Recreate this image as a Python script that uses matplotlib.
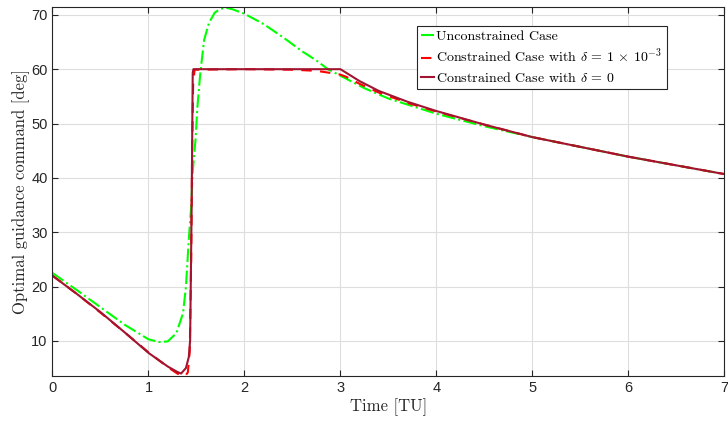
import matplotlib
matplotlib.use("Agg")
import matplotlib.pyplot as plt

# Unconstrained case (green)
t_unc = [0.0, 0.25, 0.5, 0.75, 1.0, 1.11, 1.2, 1.29, 1.36, 1.39, 1.42, 1.445, 1.46, 1.49, 1.51,
         1.54, 1.58, 1.63, 1.69, 1.75, 1.81, 1.88, 2.0, 2.2, 2.4, 2.6, 2.75, 2.87, 3.0, 3.25, 3.5,
         4.0, 4.5, 5.0, 5.5, 6.0, 6.5, 7.0]
y_unc = [22.5, 19.4, 16.2, 13.0, 10.3, 9.8, 9.9, 11.4, 15.1, 19.9, 28.6, 34.7, 40.9, 47.0, 53.1,
         59.3, 65.4, 68.5, 70.4, 71.1, 71.3, 71.0, 70.2, 68.3, 65.9, 63.3, 61.6, 60.0, 58.8, 56.5, 54.6,
         51.8, 49.5, 47.5, 45.7, 43.9, 42.3, 40.7]

# Constrained case, delta = 1e-3 (red dashed)
t_d3 = [0.0, 0.25, 0.5, 0.75, 1.0, 1.2, 1.3, 1.35, 1.38, 1.41, 1.43, 1.445, 1.455, 1.465, 1.48,
        2.0, 2.5, 2.75, 2.9, 3.0, 3.06, 3.2, 3.4, 3.7, 4.0, 4.5, 5.0, 5.5, 6.0, 6.5, 7.0]
y_d3 = [22.0, 18.7, 15.2, 11.6, 7.9, 5.2, 4.0, 3.6, 3.5, 4.2, 8.0, 25.0, 45.0, 57.0, 59.9,
        60.0, 59.9, 59.7, 59.3, 59.0, 58.6, 57.3, 55.7, 53.8, 52.2, 49.8, 47.5, 45.7, 43.9, 42.3, 40.7]

# Constrained case, delta = 0 (dark red solid)
t_d0 = [0.0, 0.25, 0.5, 0.75, 1.0, 1.2, 1.3, 1.34, 1.39, 1.42, 1.434, 1.45, 1.461, 1.468,
        3.0, 3.2, 3.4, 3.7, 4.0, 4.5, 5.0, 5.5, 6.0, 6.5, 7.0]
y_d0 = [22.0, 18.7, 15.3, 11.6, 7.8, 5.3, 4.3, 4.0, 5.0, 7.0, 10.1, 35.0, 59.3, 60.0,
        60.0, 57.8, 56.0, 54.0, 52.3, 49.8, 47.5, 45.7, 43.9, 42.3, 40.7]

labels = ["Unconstrained Case",
          r"Constrained Case with $\delta\,=\,1\,\times\,10^{-3}$",
          r"Constrained Case with $\delta\,=\,0$"]

plt.rcParams['mathtext.fontset'] = 'cm'
plt.rcParams['axes.formatter.use_mathtext'] = False

fig = plt.figure(figsize=(7.28, 4.21), dpi=100)
ax = fig.add_axes([0.0721, 0.1076, 0.9229, 0.8765])

ax.plot(t_unc, y_unc, color='#00ff00', linestyle='-.', lw=1.5, label=labels[0])
ax.plot(t_d3, y_d3, color='#ff0000', linestyle=(0, (5, 4)), lw=1.5, label=labels[1])
ax.plot(t_d0, y_d0, color='#a2142f', linestyle='-', lw=1.5, label=labels[2])

ax.set_xlim(0, 7)
ax.set_ylim(3.6, 71.5)
ax.set_xticks(range(0, 8))
ax.set_yticks(range(10, 80, 10))
ax.grid(True, color='#dedede', lw=0.8)
ax.set_axisbelow(True)
ax.tick_params(direction='in', top=True, right=True, length=4, width=0.8,
               colors='#262626', labelsize=10.5)
for lab in ax.get_xticklabels() + ax.get_yticklabels():
    lab.set_fontfamily('Liberation Sans')
for s in ax.spines.values():
    s.set_color('#262626')
    s.set_linewidth(0.8)

ax.set_xlabel('Time [TU]', fontfamily='cmr10', fontsize=12, color='#262626', labelpad=3)
ax.set_ylabel('Optimal guidance command [deg]', fontfamily='cmr10', fontsize=12,
              color='#262626', labelpad=1)

leg = ax.legend(loc='upper right', bbox_to_anchor=(0.914, 0.948), fancybox=False,
                edgecolor='#262626', framealpha=1, handlelength=0.9, handletextpad=0.2,
                borderpad=0.3, labelspacing=0.32, borderaxespad=0,
                prop={'family': 'cmr10', 'size': 10.1})
leg.get_frame().set_linewidth(0.8)

fig.savefig('out.png', dpi=100)
